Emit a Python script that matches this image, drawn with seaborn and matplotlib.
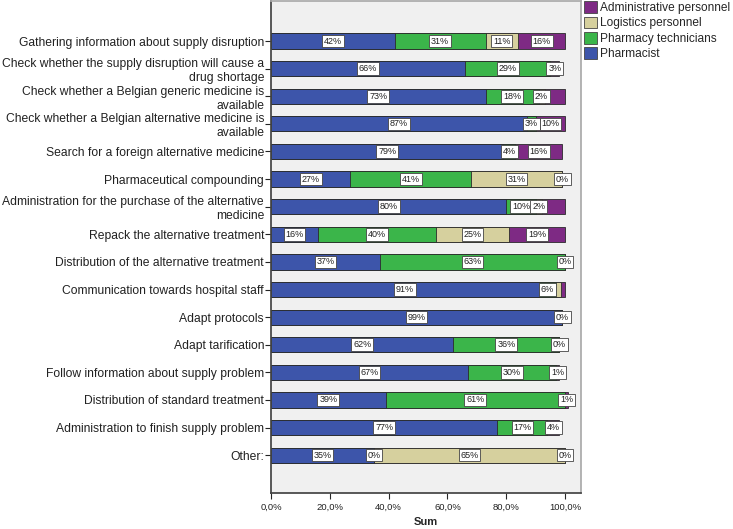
import numpy as np
import pandas as pd
import matplotlib
matplotlib.use("Agg")
import matplotlib.pyplot as plt
from matplotlib.patches import Patch
import seaborn as sns

tasks = [
    "Gathering information about supply disruption",
    "Check whether the supply disruption will cause a\ndrug shortage",
    "Check whether a Belgian generic medicine is\navailable",
    "Check whether a Belgian alternative medicine is\navailable",
    "Search for a foreign alternative medicine",
    "Pharmaceutical compounding",
    "Administration for the purchase of the alternative\nmedicine",
    "Repack the alternative treatment",
    "Distribution of the alternative treatment",
    "Communication towards hospital staff",
    "Adapt protocols",
    "Adapt tarification",
    "Follow information about supply problem",
    "Distribution of standard treatment",
    "Administration to finish supply problem",
    "Other:",
]
groups = ["Pharmacist", "Pharmacy technicians", "Logistics personnel", "Administrative personnel"]
pharmacist = [42, 66, 73, 87, 79, 27, 80, 16, 37, 91, 99, 62, 67, 39, 77, 35]
technicians = [31, 29, 18, 3, 4, 41, 10, 40, 63, 6, np.nan, 36, 30, 61, 17, 0]
logistics = [11, np.nan, 2, np.nan, np.nan, 31, 2, 25, np.nan, 1.5, np.nan, np.nan, np.nan, np.nan, np.nan, 65]
admin = [16, 3, 7, 10, 16, 0, 8, 19, 0, 1.5, 0, 0, 1, 1, 4, 0]
# segments that carry no value label in the original
unlabelled = [(2, "Administrative personnel"), (6, "Administrative personnel"),
              (9, "Logistics personnel"), (9, "Administrative personnel")]
colors = ["#3d55aa", "#3bb54a", "#d6d09e", "#7e2a84"]

df = pd.DataFrame({"task": tasks, groups[0]: pharmacist, groups[1]: technicians,
                   groups[2]: logistics, groups[3]: admin})
cum = df[groups].fillna(0).cumsum(axis=1)

sns.set_theme(style="white")
plt.rcParams["font.family"] = ["Liberation Sans", "DejaVu Sans"]

fig = plt.figure(figsize=(7.33, 5.29), dpi=100)
ax = fig.add_axes([271 / 733, 36 / 529, 310 / 733, 492 / 529])
ax.set_facecolor("#f0f0f0")

# stacked bars: draw cumulative totals from the outermost segment inwards
for g, c in reversed(list(zip(groups, colors))):
    sns.barplot(x=cum[g], y=df["task"], orient="h", color=c, saturation=1,
                width=0.55, edgecolor="#2b2b2b", linewidth=0.6, errorbar=None, ax=ax)

for i in range(len(df)):
    left = 0
    for g in groups:
        v = df.loc[i, g]
        if np.isnan(v):
            continue
        if (i, g) not in unlabelled:
            ax.text(left + v / 2, i, f"{v:.0f}%", ha="center", va="center", fontsize=6.5,
                    color="#222222",
                    bbox=dict(boxstyle="square,pad=0.2", fc="white", ec="#444444", lw=0.6))
        left += v

ax.set_xlim(0, 105.4)
ax.set_ylim(len(df) - 1 + 1.37, -1.45)
ticks = [0, 20, 40, 60, 80, 100]
ax.set_xticks(ticks)
ax.set_xticklabels([f"{t:.1f}%".replace(".", ",") for t in ticks], fontsize=6.8, color="#222222")
ax.set_xlabel("Sum", fontsize=8, fontweight="bold", labelpad=4)
ax.set_ylabel("")
ax.tick_params(axis="y", length=4, width=0.8, pad=1, labelsize=8.7, colors="#222222", left=True)
ax.tick_params(axis="x", length=4, width=0.8, pad=3, bottom=True)
for s in ["left", "bottom"]:
    ax.spines[s].set_color("#444444")
for s in ["top", "right"]:
    ax.spines[s].set_color("#aaaaaa")

handles = [Patch(facecolor=c, edgecolor="#444444", lw=0.6, label=g)
           for g, c in zip(groups, colors)][::-1]
fig.legend(handles=handles, loc="upper left", bbox_to_anchor=(583 / 733, 1.0),
           frameon=False, fontsize=8.6, borderpad=0.1, borderaxespad=0,
           handlelength=1.1, handleheight=1.1, handletextpad=0.2, labelspacing=0.22)

fig.savefig("out.png", dpi=100)
